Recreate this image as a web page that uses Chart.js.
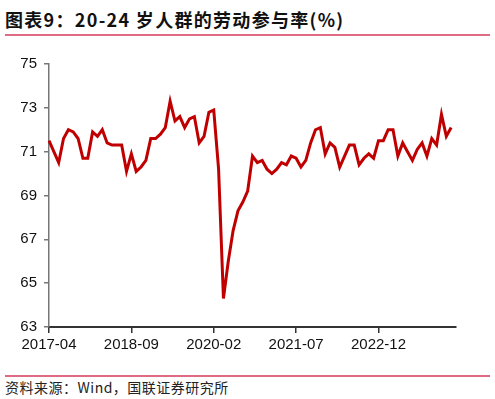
<!DOCTYPE html>
<html>
<head>
<meta charset="utf-8">
<script src="https://cdn.jsdelivr.net/npm/chart.js@4"></script>
<style>
    body { margin: 0; background: #fff; width: 495px; height: 399px; position: relative; overflow: hidden; }
    #titulo { position: absolute; left: 5px; top: 6px; font: bold 18px "Noto Sans CJK SC", sans-serif; letter-spacing: 1.3px; color: #111; white-space: nowrap; }
    .linea { position: absolute; left: 5px; width: 485px; height: 2px; background: #de6a84; }
    #fuente { position: absolute; left: 5px; top: 377px; font: 14px "Noto Sans CJK SC", sans-serif; letter-spacing: 0.5px; color: #222; white-space: nowrap; }
    #caja { position: absolute; left: 0; top: 40px; width: 495px; height: 330px; }
</style>
</head>
<body>
<div id="titulo">图表9：20-24 岁人群的劳动参与率(%)</div>
<div class="linea" style="top:34px"></div>
<div id="caja"><canvas id="line-chart"></canvas></div>
<div class="linea" style="top:375px"></div>
<div id="fuente">资料来源：Wind，国联证券研究所</div>
<script>
// meses 2017-04 .. 2024-04 (el ultimo sin dato, solo extiende el eje)
const mes_inicio = [2017, 4];
const total_meses = 85;
const etiquetas_eje = ['2017-04', '2018-09', '2020-02', '2021-07', '2022-12'];
const valores_y = [63, 65, 67, 69, 71, 73, 75];

const tasa_participacion = [
    71.5, 71.0, 70.5, 71.6, 72.0, 71.9, 71.6, 70.7, 70.7, 71.9, 71.7, 72.0,
    71.4, 71.3, 71.3, 71.3, 70.1, 70.9, 70.1, 70.3, 70.6, 71.6, 71.6, 71.8,
    72.1, 73.3, 72.4, 72.6, 72.1, 72.5, 72.6, 71.4, 71.7, 72.8, 72.9, 70.2,
    64.3, 66.0, 67.4, 68.3, 68.7, 69.2, 70.8, 70.5, 70.6, 70.2, 70.0, 70.2,
    70.5, 70.4, 70.8, 70.7, 70.3, 70.6, 71.4, 72.0, 72.1, 70.9, 71.4, 71.2,
    70.3, 70.8, 71.3, 71.3, 70.4, 70.7, 70.9, 70.7, 71.5, 71.5, 72.0, 72.0,
    70.8, 71.4, 71.0, 70.6, 71.1, 71.4, 70.8, 71.6, 71.3, 72.7, 71.7, 72.1
];

const meses = [];
for (let i = 0; i < total_meses; i++) {
    const m = mes_inicio[1] - 1 + i;
    const anio = mes_inicio[0] + Math.floor(m / 12);
    meses.push(anio + '-' + String(m % 12 + 1).padStart(2, '0'));
}

const fuente_ejes = { family: "'Liberation Sans', Arial, sans-serif", size: 15 };

const build_chart_line = (id_canvas, etiquetas, datos) => {
    try {
        new Chart(id_canvas, {
            type: 'line',
            data: {
                labels: etiquetas,
                datasets: [{
                    label: '劳动参与率',
                    data: datos,
                    borderColor: '#c00000',
                    borderWidth: 3,
                    pointRadius: 0,
                    tension: 0,
                    fill: false
                }]
            },
            options: {
                responsive: true,
                maintainAspectRatio: false,
                animation: false,
                layout: { padding: { top: 24, right: 39, left: 0, bottom: 0 } },
                plugins: { legend: { display: false }, tooltip: { enabled: false } },
                scales: {
                    x: {
                        type: 'category',
                        offset: false,
                        afterBuildTicks: (eje) => {
                            eje.ticks = eje.ticks.filter(t => etiquetas_eje.includes(etiquetas[t.value]));
                        },
                        afterFit: (eje) => { eje.height = 43; },
                        grid: { display: true, drawOnChartArea: false, tickLength: 6, color: '#333', lineWidth: 1.5 },
                        border: { color: '#333', width: 2 },
                        ticks: { autoSkip: false, maxRotation: 0, color: '#111', font: fuente_ejes, padding: 3 }
                    },
                    y: {
                        min: 63,
                        max: 75,
                        afterBuildTicks: (eje) => { eje.ticks = valores_y.map(v => ({ value: v })); },
                        afterFit: (eje) => { eje.width = 49; },
                        grid: { display: true, drawOnChartArea: false, tickLength: 5, color: '#777', lineWidth: 1.5 },
                        border: { color: '#777', width: 1.5 },
                        ticks: { color: '#111', font: fuente_ejes, padding: 7 }
                    }
                }
            }
        });
    } catch (e) {
        console.error("Ocurrio un error", e);
    }
}

build_chart_line(document.getElementById('line-chart'), meses, tasa_participacion);
</script>
</body>
</html>
